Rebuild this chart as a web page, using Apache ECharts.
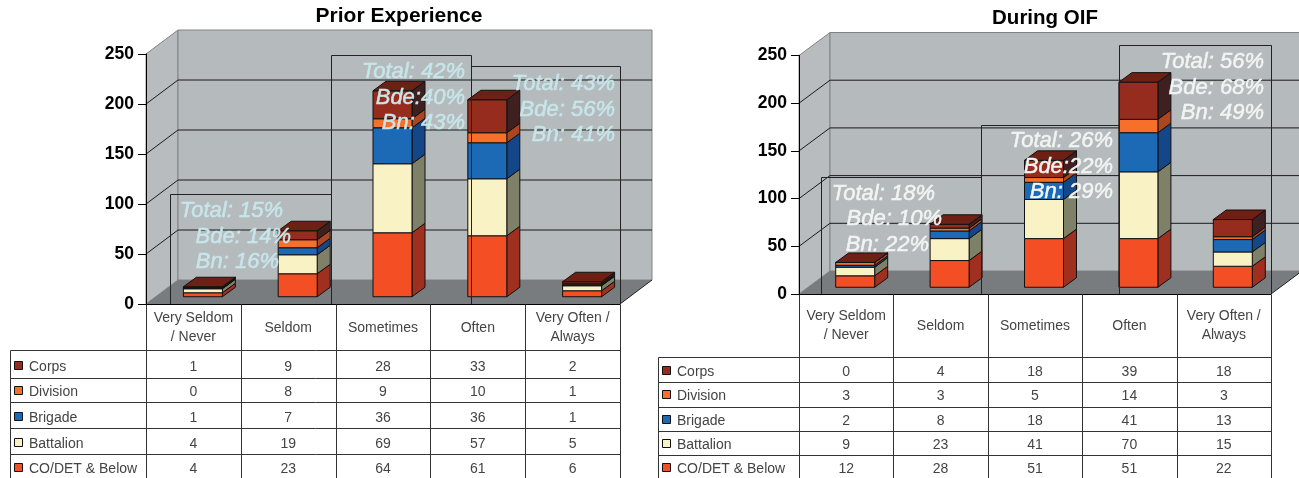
<!DOCTYPE html>
<html><head><meta charset="utf-8">
<style>html,body{margin:0;padding:0;background:#fff}#c{width:1299px;height:478px}</style>
<script src="https://cdn.jsdelivr.net/npm/echarts@6/dist/echarts.min.js"></script>
</head><body><div id="c"></div>
<script>
const categories = ['Very Seldom\n/ Never','Seldom','Sometimes','Often','Very Often /\nAlways'];
const seriesNames = ['Corps','Division','Brigade','Battalion','CO/DET & Below'];
const yTicks = [0,50,100,150,200,250];

const priorCorps = [1,9,28,33,2];
const priorDivision = [0,8,9,10,1];
const priorBrigade = [1,7,36,36,1];
const priorBattalion = [4,19,69,57,5];
const priorCompany = [4,23,64,61,6];

const oifCorps = [0,4,18,39,18];
const oifDivision = [3,3,5,14,3];
const oifBrigade = [2,8,18,41,13];
const oifBattalion = [9,23,41,70,15];
const oifCompany = [12,28,51,51,22];

const priorNotes = [['Total: 15%','Bde: 14%','Bn: 16%'],['Total: 42%','Bde:40%','Bn: 43%'],['Total: 43%','Bde: 56%','Bn: 41%']];
const oifNotes = [['Total: 18%','Bde: 10%','Bn: 22%'],['Total: 26%','Bde:22%','Bn: 29%'],['Total: 56%','Bde: 68%','Bn: 49%']];

const FRONT = ['#f44e25','#f8f2c4','#1c69b5','#f6702c','#962c1e'];
const SIDE  = ['#9f2f1e','#7e8068','#13478a','#ab4620','#3e2020'];
const SWATCH = ['#962c1e','#f6702c','#1c69b5','#f8f2c4','#f44e25'];
const TOP = '#6e2014';

const panels = [
  {title:'Prior Experience', titleX:394, titleY:11, titleSize:21,
   stacks:[priorCompany,priorBattalion,priorBrigade,priorDivision,priorCorps],
   rows:[priorCorps,priorDivision,priorBrigade,priorBattalion,priorCompany],
   notes:priorNotes, noteColor:'#c6e6ea',
   left:146, top:54, width:474, height:250, dx:32, dy:24, labelMargin:24,
   tableLeft:10, rowLines:[350,378,402,428,454], rowText:[367,392,418,444,469],
   swatchX:14, textX:29,
   boxes:[[170,194,331],[331,55,471],[471,66,620]],
   noteRight:[[283,291,279],[465,465,465],[615,615,615]],
   noteY:[[211,237,262],[72,98,123],[84,110,135]]},
  {title:'During OIF', titleX:1040, titleY:13, titleSize:20.5,
   stacks:[oifCompany,oifBattalion,oifBrigade,oifDivision,oifCorps],
   rows:[oifCorps,oifDivision,oifBrigade,oifBattalion,oifCompany],
   notes:oifNotes, noteColor:'#f2f4f4',
   left:799, top:55.5, width:472, height:238.5, dx:31, dy:23, labelMargin:32,
   tableLeft:658, rowLines:[357,382,407,431,455], rowText:[372,396,421,445,469],
   swatchX:662, textX:677,
   boxes:[[821,177,981],[981,125,1119],[1119,45,1271]],
   noteRight:[[935,942,929],[1113,1113,1113],[1264,1264,1264]],
   noteY:[[194,219,245],[141,167,192],[62,88,113]]}
];

const BAR_W = 39, BAR_DX = 13, BAR_DY = 9.5;

function poly(points, fill, stroke, lw){
  return {type:'polygon', shape:{points}, style:{fill, stroke, lineWidth:lw===undefined?1:lw}};
}

const titles=[], grids=[], xAxes=[], yAxes=[], series=[], graphic=[];

panels.forEach((p, pi) => {
  titles.push({text:p.title, left:p.titleX, top:p.titleY, textAlign:'center', textVerticalAlign:'middle',
    textStyle:{fontFamily:'Liberation Sans', fontWeight:'bold', fontSize:p.titleSize, color:'#000'}});
  grids.push({left:p.left, top:p.top, width:p.width, height:p.height, containLabel:false});
  xAxes.push({type:'category', gridIndex:pi, data:categories, z:6,
    axisLine:{show:true, lineStyle:{color:'#000', width:1}}, axisTick:{show:false},
    axisLabel:{interval:0, margin:p.labelMargin, verticalAlign:'middle', lineHeight:19,
      fontFamily:'Liberation Sans', fontSize:14, color:'#444'}});
  yAxes.push({type:'value', gridIndex:pi, min:0, max:250, interval:50, z:6,
    axisLine:{show:true, lineStyle:{color:'#000', width:1}},
    axisTick:{show:true, inside:false, length:8, lineStyle:{color:'#000'}},
    splitLine:{show:false},
    axisLabel:{margin:12, padding:[3,0,0,0], fontFamily:'Liberation Sans', fontWeight:'bold', fontSize:17.5, color:'#000'}});

  // walls and floor
  series.push({type:'custom', xAxisIndex:pi, yAxisIndex:pi, z:1, silent:true, data:[[0]],
    renderItem(params, api){
      const cs = params.coordSys, x0=cs.x, x1=cs.x+cs.width;
      const y0=api.coord([0,0])[1], yT=api.coord([0,250])[1], dx=p.dx, dy=p.dy;
      return {type:'group', children:[
        poly([[x0,y0],[x0+dx,y0-dy],[x0+dx,yT-dy],[x0,yT]], '#b8bcbf', '#808486'),
        poly([[x0+dx,y0-dy],[x1+dx,y0-dy],[x1+dx,yT-dy],[x0+dx,yT-dy]], '#b5babd', '#808486'),
        poly([[x0,y0],[x0+dx,y0-dy],[x1+dx,y0-dy],[x1,y0]], '#787c7f', null, 0),
        {type:'line', shape:{x1:x1,y1:y0,x2:x1+dx,y2:y0-dy}, style:{stroke:'#222',lineWidth:1}}
      ]};
    }});
  // wall gridlines
  series.push({type:'custom', xAxisIndex:pi, yAxisIndex:pi, z:2, silent:true,
    data:yTicks.filter(t=>t>0&&t<250).map(t=>[0,t]),
    renderItem(params, api){
      const cs = params.coordSys, x0=cs.x, x1=cs.x+cs.width;
      const y=api.coord([0,api.value(1)])[1];
      return {type:'polyline', shape:{points:[[x0,y],[x0+p.dx,y-p.dy],[x1+p.dx,y-p.dy]]},
        style:{fill:null, stroke:'#1a1a1a', lineWidth:1}};
    }});
  // stacked 3D bars
  p.stacks.forEach((vals, si) => {
    const data = vals.map((v,i)=>{
      let base=0; for(let k=0;k<si;k++) base+=p.stacks[k][i];
      return [i, base, base+v];
    });
    series.push({type:'custom', name:seriesNames[4-si], xAxisIndex:pi, yAxisIndex:pi, z:3+si*0.01, silent:true, data,
      encode:{x:0,y:[1,2]},
      renderItem(params, api){
        const i=api.value(0), a=api.coord([i,api.value(1)]), b=api.coord([i,api.value(2)]);
        const off=(p.dx-BAR_DX)/2, offY=(p.dy-BAR_DY)/2;
        const l=a[0]+off-BAR_W/2, r=l+BAR_W, yb=a[1]-offY, yt=b[1]-offY;
        const kids=[
          poly([[r,yb],[r+BAR_DX,yb-BAR_DY],[r+BAR_DX,yt-BAR_DY],[r,yt]], SIDE[si], '#111'),
          poly([[l,yb],[r,yb],[r,yt],[l,yt]], FRONT[si], '#111')
        ];
        if(si===4) kids.push(poly([[l,yt],[r,yt],[r+BAR_DX,yt-BAR_DY],[l+BAR_DX,yt-BAR_DY]], TOP, '#111'));
        return {type:'group', children:kids};
      }});
  });

  // annotation boxes and text
  const y0 = p.top+p.height;
  p.boxes.forEach((b,k)=>{
    graphic.push({type:'polyline', z:20, silent:true, shape:{points:[[b[0]+.5,y0],[b[0]+.5,b[1]+.5],[b[2]+.5,b[1]+.5],[b[2]+.5,y0]]},
      style:{fill:null, stroke:'#222', lineWidth:1}});
    p.notes[k].forEach((t,j)=>{
      graphic.push({type:'text', z:21, silent:true, x:p.noteRight[k][j], y:p.noteY[k][j],
        style:{text:t, align:'right', verticalAlign:'middle', fill:p.noteColor,
          stroke:p.noteColor, lineWidth:0.5,
          fontStyle:'italic', fontSize:22, fontFamily:'Liberation Sans'}});
    });
  });

  // data table
  const colW = p.width/categories.length;
  const line=(x1,y1,x2,y2,c)=>graphic.push({type:'line', z:22, silent:true,
    shape:{x1:Math.round(x1)+.5,y1:Math.round(y1)+.5,x2:Math.round(x2)+.5,y2:Math.round(y2)+.5},
    style:{stroke:c||'#333', lineWidth:1}});
  for(let c=0;c<=categories.length;c++) line(p.left+c*colW,y0,p.left+c*colW,478);
  p.rowLines.forEach(y=>line(p.tableLeft,y,p.left+p.width,y));
  line(p.tableLeft,p.rowLines[0],p.tableLeft,478);
  p.rows.forEach((row,r)=>{
    const yc=p.rowText[r];
    graphic.push({type:'rect', z:23, silent:true, shape:{x:p.swatchX+.5,y:yc-5.5,width:8,height:8},
      style:{fill:SWATCH[r], stroke:'#111', lineWidth:1}});
    graphic.push({type:'text', z:23, silent:true, x:p.textX, y:yc,
      style:{text:seriesNames[r], align:'left', verticalAlign:'middle', fill:'#444', fontSize:14, fontFamily:'Liberation Sans'}});
    row.forEach((v,c)=>{
      graphic.push({type:'text', z:23, silent:true, x:p.left+(c+.5)*colW, y:yc,
        style:{text:String(v), align:'center', verticalAlign:'middle', fill:'#444', fontSize:14, fontFamily:'Liberation Sans'}});
    });
  });
});

const chart = echarts.init(document.getElementById('c'), null, {renderer:'canvas', width:1299, height:478});
chart.setOption({
  animation:false, backgroundColor:'#fff', title:titles, grid:grids,
  xAxis:xAxes, yAxis:yAxes, series, graphic:{elements:graphic}
});
</script></body></html>
